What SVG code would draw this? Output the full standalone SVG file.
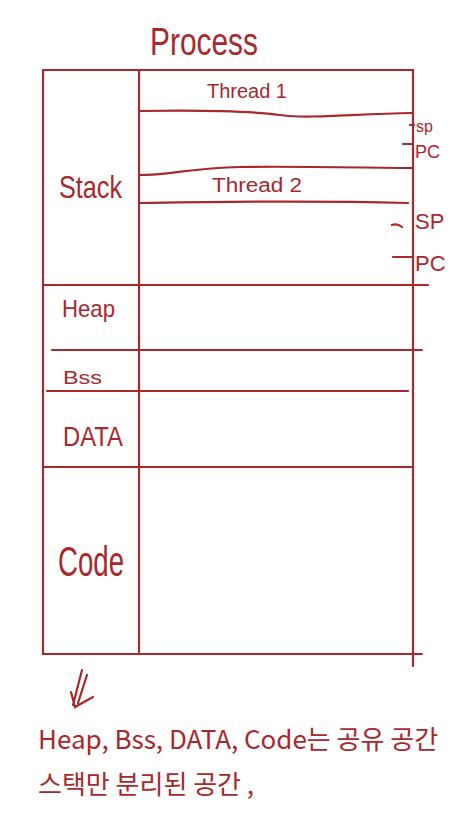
<svg xmlns="http://www.w3.org/2000/svg" width="451" height="818" viewBox="0 0 451 818">
<style>
.ln{stroke:#a8282c;stroke-width:2.2;fill:none;stroke-linecap:round}
.tx{fill:#a8282c;font-family:"Liberation Sans","Noto Sans CJK KR",sans-serif}
.kr{fill:#a8282c;font-family:"Noto Sans CJK KR","Liberation Sans",sans-serif}
</style>
<rect width="451" height="818" fill="#ffffff"/>
<g id="process">
<text class="tx" x="150" y="55" font-size="38" textLength="108" lengthAdjust="spacingAndGlyphs">Process</text>
<path class="ln" d="M43,70 H413 V666 M43,70 V654 H422 M139,70 V652"/>
</g>
<g id="stack">
<text class="tx" x="59" y="198" font-size="32" textLength="63" lengthAdjust="spacingAndGlyphs">Stack</text>
<path class="ln" d="M43,285 H428"/>
</g>
<g id="thread1">
<text class="tx" x="207" y="98" font-size="20" textLength="80" lengthAdjust="spacingAndGlyphs">Thread 1</text>
<path class="ln" d="M139,111 C200,110 250,111 280,115 S350,114 413,113"/>
<text class="tx" x="416" y="132" font-size="16">sp</text>
<text class="tx" x="415" y="158" font-size="18">PC</text>
<path class="ln" d="M410,125 H414 M403,144 H412"/>
</g>
<g id="thread2">
<path class="ln" d="M139,175 C170,175 190,168 240,167 S380,168 413,168"/>
<text class="tx" x="212" y="192" font-size="20" textLength="90" lengthAdjust="spacingAndGlyphs">Thread 2</text>
<path class="ln" d="M139,203 C200,202 300,200 408,203"/>
<text class="tx" x="415" y="229" font-size="22">SP</text>
<text class="tx" x="415" y="271" font-size="22">PC</text>
<path class="ln" d="M392,225 Q397,223 402,227 M393,257 H412"/>
</g>
<g id="heap">
<text class="tx" x="62" y="317" font-size="24" textLength="53" lengthAdjust="spacingAndGlyphs">Heap</text>
<path class="ln" d="M52,350 H422"/>
</g>
<g id="bss">
<text class="tx" x="63" y="384" font-size="19" textLength="39" lengthAdjust="spacingAndGlyphs">Bss</text>
<path class="ln" d="M47,391 H408"/>
</g>
<g id="data">
<text class="tx" x="63" y="446" font-size="28" textLength="60" lengthAdjust="spacingAndGlyphs">DATA</text>
<path class="ln" d="M43,467 H413"/>
</g>
<g id="code">
<text class="tx" x="58" y="576" font-size="42" textLength="66" lengthAdjust="spacingAndGlyphs">Code</text>
</g>
<g id="connectors">
<path class="ln" d="M82,670 L73,705 M87,675 L78,703 M71,692 L75,707 L93,697"/>
</g>
<g id="note">
<text class="kr" x="38" y="749" font-size="26">Heap, Bss, DATA, Code는 공유 공간</text>
<text class="kr" x="38" y="794" font-size="26">스택만 분리된 공간 ,</text>
</g>
</svg>
